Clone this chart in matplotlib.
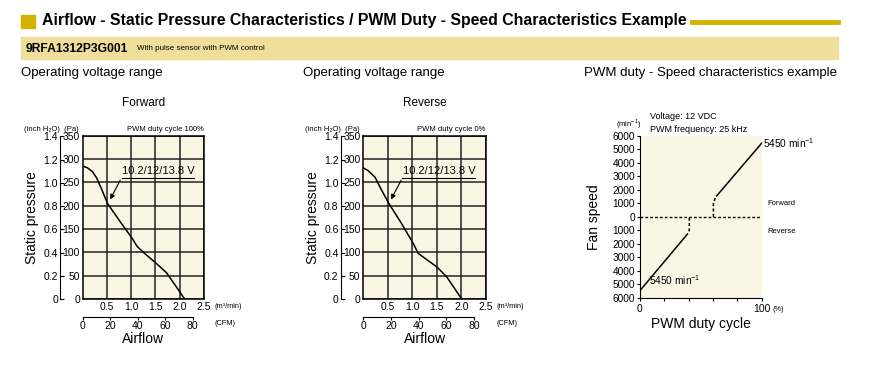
import matplotlib
matplotlib.use('Agg')
import matplotlib.pyplot as plt
from matplotlib.patches import Rectangle
from matplotlib.lines import Line2D

plt.rcParams['font.family'] = ['Liberation Sans', 'DejaVu Sans']
plt.rcParams['mathtext.fontset'] = 'custom'
plt.rcParams['mathtext.rm'] = 'Liberation Sans'

W, H = 879, 381

# data
fwd_flow = [0, 0.1, 0.2, 0.29, 0.4, 0.51, 0.77, 1.02, 1.12, 1.25, 1.52, 1.73, 1.93, 2.1]
fwd_pa = [285, 281, 273, 259, 233, 205, 166, 130, 113, 100, 76, 56, 26, 0]
rev_flow = [0, 0.1, 0.24, 0.35, 0.52, 0.78, 1.02, 1.12, 1.3, 1.5, 1.7, 2.01]
rev_pa = [281, 275, 261, 238, 205, 162, 119, 98, 84, 69, 48, 0]

pa_ticks = [0, 50, 100, 150, 200, 250, 300, 350]
inch_ticks = [0, 0.2, 0.4, 0.6, 0.8, 1.0, 1.2, 1.4]
m3_ticks = [0.5, 1.0, 1.5, 2.0, 2.5]
cfm_ticks = [0, 20, 40, 60, 80]

duty_low = [0, 37.8]
speed_low = [-5450, -1400]
duty_low_dash = [37.8, 39.6, 40.5, 40.5]
speed_low_dash = [-1400, -1200, -1000, 0]
duty_up_dash = [60.3, 60.3, 61.4, 63]
speed_up_dash = [0, 1000, 1300, 1550]
duty_up = [63, 100]
speed_up = [1550, 5450]
speed_ticks = list(range(-6000, 6001, 1000))
duty_ticks = [0, 20, 40, 60, 80, 100]

bg = '#fbf6e4'
gold = '#d4b000'
band = '#efdf9b'


def box(x0, y0, x1, y1):
    return [x0 / W, 1 - y1 / H, (x1 - x0) / W, (y1 - y0) / H]


fig = plt.figure(figsize=(W / 100, H / 100), dpi=100)

# header
fig.patches.append(Rectangle((21.5 / W, 1 - 27.5 / H), 13.5 / W, 12.5 / H,
                             transform=fig.transFigure, color=gold))
fig.text(42 / W, 1 - 21 / H, 'Airflow - Static Pressure Characteristics / PWM Duty - Speed Characteristics Example',
         fontsize=11.4, fontweight='bold', va='center', ha='left')
fig.lines.append(Line2D([692 / W, 838 / W], [1 - 22 / H, 1 - 22 / H], transform=fig.transFigure,
                        color=gold, lw=3.5))
fig.patches.append(Rectangle((21 / W, 1 - 59 / H), 817 / W, 21.5 / H,
                             transform=fig.transFigure, color=band))
fig.text(26 / W, 1 - 48.5 / H, '9RFA1312P3G001', fontsize=8.7, fontweight='bold', va='center')
fig.text(137 / W, 1 - 49 / H, 'With pulse sensor with PWM control', fontsize=5.8, va='center')
for xs, s in [(21, 'Operating voltage range'), (303, 'Operating voltage range'),
              (584, 'PWM duty - Speed characteristics example')]:
    fig.text(xs / W, 1 - 73 / H, s, fontsize=9.5, va='center')


def pq_chart(x0, x1, flow, pa, title, duty):
    ax = fig.add_axes(box(x0, 135.7, x1, 299))
    ax.set_facecolor(bg)
    ax.plot(flow, pa, color='black', lw=1.1)
    ax.set_xlim(0, 2.5)
    ax.set_ylim(0, 350)
    ax.set_xticks(m3_ticks)
    ax.set_yticks(pa_ticks)
    ax.grid(True, color='#222222', lw=1.1)
    for s in ax.spines.values():
        s.set_linewidth(1.1)
    ax.tick_params(length=0, labelsize=7.5, pad=2)
    ax.set_xticklabels(['0.5', '1.0', '1.5', '2.0', '2.5'])
    ax.set_yticklabels([str(v) for v in pa_ticks])
    ax.text(1.09, -0.045, '(m³/min)', transform=ax.transAxes, fontsize=5.3, va='center')
    ax.text(1.0, 1.04, 'PWM duty cycle ' + duty, transform=ax.transAxes, fontsize=5.5, ha='right', va='center')
    ax.text(0.5, 1.2, title, transform=ax.transAxes, fontsize=8.5, ha='center', va='center')
    ax.text(-0.48, 1.04, '(inch H₂O)  (Pa)', transform=ax.transAxes, fontsize=5.5, va='center')

    # inch H2O axis
    sec = ax.secondary_yaxis(-0.185, functions=(lambda p: p / 249.09, lambda i: i * 249.09))
    sec.set_yticks(inch_ticks)
    sec.set_yticklabels(['0', '0.2', '0.4', '0.6', '0.8', '1.0', '1.2', '1.4'])
    sec.tick_params(direction='in', length=3, labelsize=7.5, pad=1.5)
    sec.spines['left'].set_linewidth(0.8)
    sec.set_ylabel('Static pressure', fontsize=10, labelpad=3)

    # CFM axis
    cfm = ax.secondary_xaxis(-0.108, functions=(lambda m: m * 35.31, lambda c: c / 35.31))
    cfm.set_xticks(cfm_ticks)
    cfm.tick_params(direction='out', length=2.5, labelsize=7.5, pad=0.5)
    cfm.spines['bottom'].set_bounds(0, 80)
    cfm.spines['bottom'].set_linewidth(0.8)
    cfm.set_xlabel('Airflow', fontsize=10, labelpad=1)
    ax.text(1.09, -0.147, '(CFM)', transform=ax.transAxes, fontsize=5.3, va='center')

    # label with leader
    ax.annotate('', xy=(0.54, 208), xytext=(0.8, 260),
                arrowprops=dict(arrowstyle='-|>', color='black', lw=0.8, mutation_scale=7))
    ax.plot([0.8, 2.29], [260, 260], color='black', lw=0.8, clip_on=False)
    ax.text(0.82, 264, '10.2/12/13.8 V', fontsize=8, va='bottom', ha='left')
    return ax


pq_chart(82.7, 204, fwd_flow, fwd_pa, 'Forward', '100%')
pq_chart(363.3, 485.7, rev_flow, rev_pa, 'Reverse', '0%')

# PWM duty - speed chart
ax3 = fig.add_axes(box(640, 135.7, 761.7, 298))
ax3.set_facecolor(bg)
ax3.plot(duty_low, speed_low, color='black', lw=1.1)
ax3.plot(duty_up, speed_up, color='black', lw=1.1)
ax3.plot(duty_low_dash, speed_low_dash, color='black', lw=1.1, ls=(0, (2, 1.5)))
ax3.plot(duty_up_dash, speed_up_dash, color='black', lw=1.1, ls=(0, (2, 1.5)))
ax3.plot([0, 100], [0, 0], color='black', lw=1.0, ls=(0, (2, 1.5)))
ax3.set_xlim(0, 100)
ax3.set_ylim(-6000, 6000)
ax3.set_yticks(speed_ticks)
ax3.set_yticklabels([str(abs(v)) for v in speed_ticks])
ax3.set_xticks(duty_ticks)
ax3.set_xticklabels(['0', '', '', '', '', '100'])
ax3.tick_params(axis='y', direction='out', length=2.5, labelsize=7.3, pad=1)
ax3.tick_params(axis='x', direction='out', length=2.5, labelsize=7.5, pad=2)
for s in ax3.spines.values():
    s.set_visible(False)
ax3.spines['left'].set_visible(True)
ax3.spines['bottom'].set_visible(True)
ax3.spines['left'].set_linewidth(0.8)
ax3.spines['bottom'].set_linewidth(0.8)
ax3.set_ylabel('Fan speed', fontsize=10, labelpad=8)
ax3.set_xlabel('PWM duty cycle', fontsize=10, labelpad=2)
ax3.text(1.09, -0.07, '(%)', transform=ax3.transAxes, fontsize=5.3, va='center')
ax3.text(-0.2, 1.07, '(min$^{-1}$)', transform=ax3.transAxes, fontsize=5.5, va='center')
ax3.text(0.08, 1.12, 'Voltage: 12 VDC', transform=ax3.transAxes, fontsize=6.5, va='center')
ax3.text(0.08, 1.04, 'PWM frequency: 25 kHz', transform=ax3.transAxes, fontsize=6.5, va='center')
ax3.text(101, 5450, '5450 min$^{-1}$', fontsize=7.3, va='center', ha='left')
ax3.text(7, -4650, '5450 min$^{-1}$', fontsize=7.3, va='center', ha='left')
ax3.text(105, 1000, 'Forward', fontsize=5.5, va='center', ha='left')
ax3.text(105, -1100, 'Reverse', fontsize=5.5, va='center', ha='left')

fig.savefig('out.png', dpi=100, facecolor='white')
